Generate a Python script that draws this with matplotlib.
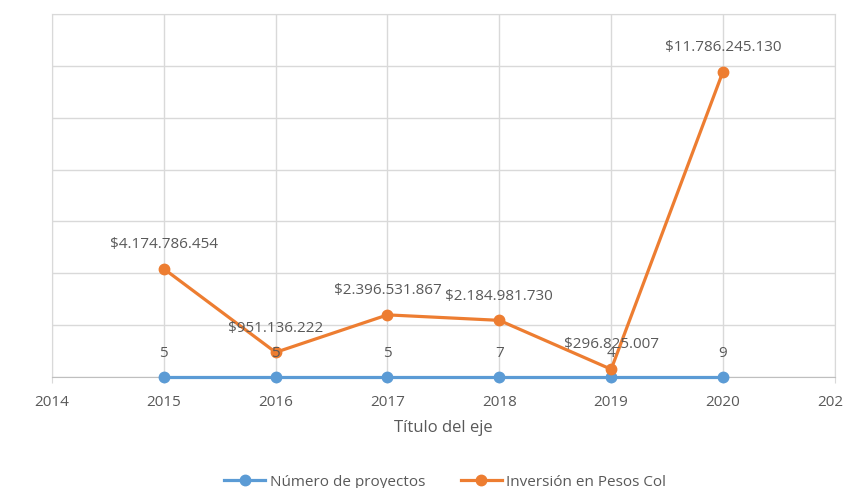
import matplotlib.pyplot as plt
from matplotlib.lines import Line2D

plt.rcParams['font.family'] = ['Open Sans', 'DejaVu Sans']

years = [2015, 2016, 2017, 2018, 2019, 2020]
num_proyectos = [5, 5, 5, 7, 4, 9]
inversion = [4174786454, 951136222, 2396531867, 2184981730, 296825007, 11786245130]

blue = '#5B9BD5'
orange = '#ED7D31'
txt = '#595959'
grid = '#D9D9D9'

def pesos(v):
    return '$' + f'{v:,}'.replace(',', '.')

fig = plt.figure(figsize=(8.45, 4.88), dpi=100)
ax = fig.add_axes([0.0615, 0.2275, 0.9265, 0.7435])

ax.plot(years, num_proyectos, color=blue, lw=2.3, marker='o', ms=7.5,
        zorder=3, clip_on=False)
ax.plot(years, inversion, color=orange, lw=2.3, marker='o', ms=7.5,
        zorder=4, clip_on=False)

for x, v in zip(years, num_proyectos):
    ax.annotate(str(v), (x, v), xytext=(0, 17), textcoords='offset points',
                ha='center', va='center', color=txt, fontsize=11, zorder=5)
for x, v in zip(years, inversion):
    ax.annotate(pesos(v), (x, v), xytext=(0, 17.5), textcoords='offset points',
                ha='center', va='center', color=txt, fontsize=11, zorder=5)

ax.set_xlim(2014, 2021)
ax.set_ylim(0, 14e9)
ax.set_xticks(range(2014, 2022))
ax.set_xticklabels([str(y) for y in range(2014, 2022)])
ax.set_yticks([i * 2e9 for i in range(8)])
ax.tick_params(axis='y', left=False, labelleft=False)
ax.tick_params(axis='x', colors=grid, labelcolor=txt, labelsize=11,
               length=4, pad=9)
ax.grid(True, color=grid, lw=1)
ax.set_axisbelow(True)
for s in ['left', 'top', 'right']:
    ax.spines[s].set_color(grid)
ax.spines['bottom'].set_color('#BFBFBF')
for s in ax.spines.values():
    s.set_zorder(1)

ax.set_xlabel('Título del eje', color=txt, fontsize=12, labelpad=7)

handles = [Line2D([], [], color=blue, lw=2.3, marker='o', ms=7.5),
           Line2D([], [], color=orange, lw=2.3, marker='o', ms=7.5)]
leg = fig.legend(handles, ['Número de proyectos', 'Inversión en Pesos Col'],
                 loc='center', bbox_to_anchor=(0.527, 0.012), ncol=2,
                 frameon=False, fontsize=11, handlelength=2.7,
                 columnspacing=2.3, handletextpad=0.3)
for t in leg.get_texts():
    t.set_color(txt)

fig.savefig('out.png', dpi=100)
